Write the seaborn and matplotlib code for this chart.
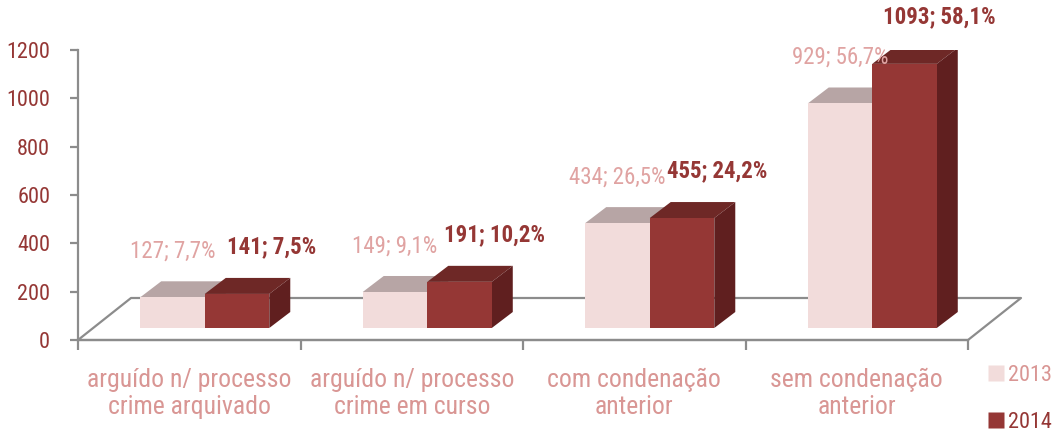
import numpy as np
import pandas as pd
import matplotlib
matplotlib.use("Agg")
import matplotlib.pyplot as plt
import seaborn as sns
from matplotlib import transforms
from matplotlib.patches import Polygon
from matplotlib.lines import Line2D
from matplotlib.ticker import FixedLocator

# ---------------- data ----------------
categories = ["arguído n/ processo\ncrime arquivado",
              "arguído n/ processo\ncrime em curso",
              "com condenação\nanterior",
              "sem condenação\nanterior"]
years = ["2013", "2014"]
values_2013 = [127, 149, 434, 929]
values_2014 = [141, 191, 455, 1093]
pct_2013 = ["7,7%", "9,1%", "26,5%", "56,7%"]
pct_2014 = ["7,5%", "10,2%", "24,2%", "58,1%"]
y_ticks = [0, 200, 400, 600, 800, 1000, 1200]

# ---------------- style ----------------
sns.set_theme(style="white")
plt.rcParams["font.family"] = ["Roboto Condensed", "DejaVu Sans"]
plt.rcParams["font.stretch"] = "condensed"

front = {"2013": "#F2DCDB", "2014": "#953735"}
top_c = {"2013": "#B7A5A5", "2014": "#6E2826"}
side_c = {"2013": "#C9B5B4", "2014": "#601F1F"}
lab_c = {"2013": "#E0A3A2", "2014": "#953735"}
axis_gray = "#8C8C8C"
tick_red = "#953735"
cat_pink = "#D99694"

W, H = 1053, 440
fig = plt.figure(figsize=(W / 100, H / 100), dpi=100)
ax = fig.add_axes([78 / W, 100 / H, 890 / W, 290 / H])

df = pd.DataFrame({
    "cat": categories * 2,
    "year": [years[0]] * 4 + [years[1]] * 4,
    "value": values_2013 + values_2014,
})
sns.barplot(data=df, x="cat", y="value", hue="year", palette=front,
            width=0.58, saturation=1, ax=ax, legend=False, linewidth=0,
            zorder=3)
ax.set_xlim(-0.5, 3.5)
ax.set_ylim(0, 1200)

# pixel -> data unit conversions
px_x = 4.0 / 890.0
px_y = 1200.0 / 290.0

# bars sit partway into the floor depth
shift = transforms.ScaledTranslation(15.5 / 100, 12 / 100, fig.dpi_scale_trans)
bar_tr = ax.transData + shift
ddx, ddy = 21 * px_x, 16 * px_y  # bar depth

bars = sorted(ax.patches, key=lambda p: p.get_x())
for i, p in enumerate(bars):
    yr = years[i % 2]
    p.set_transform(bar_tr)
    x0, w, h = p.get_x(), p.get_width(), p.get_height()
    z = 3 + (i % 2) * 2
    p.set_zorder(z + 1)
    topf = Polygon([(x0, h), (x0 + w, h), (x0 + w + ddx, h + ddy), (x0 + ddx, h + ddy)],
                   closed=True, facecolor=top_c[yr], edgecolor="none", transform=bar_tr, zorder=z)
    sidef = Polygon([(x0 + w, 0), (x0 + w, h), (x0 + w + ddx, h + ddy), (x0 + w + ddx, ddy)],
                    closed=True, facecolor=side_c[yr], edgecolor="none", transform=bar_tr, zorder=z)
    ax.add_patch(topf)
    ax.add_patch(sidef)

# data labels
for i, p in enumerate(bars):
    gi, hi = i // 2, i % 2
    yr = years[hi]
    v = values_2013[gi] if hi == 0 else values_2014[gi]
    pc = pct_2013[gi] if hi == 0 else pct_2014[gi]
    off = (0, 46) if hi == 0 else (35, 47)
    ax.annotate(f"{v}; {pc}", xy=(p.get_x() + p.get_width() / 2, p.get_height()),
                xycoords=bar_tr, xytext=(off[0] * 0.72, off[1] * 0.72),
                textcoords="offset points", ha="center", va="center",
                fontsize=16.5, color=lab_c[yr], fontweight="bold" if hi == 1 else "normal",
                zorder=10)

# floor outline
fx, fy = 53 * px_x, 42 * px_y
floor = Line2D([-0.5, -0.5 + fx, 3.5 + fx, 3.5, -0.5], [0, fy, fy, 0, 0],
               color=axis_gray, lw=1.6, zorder=1, clip_on=False)
ax.add_line(floor)

# axes styling
for s in ["top", "right"]:
    ax.spines[s].set_visible(False)
for s in ["left", "bottom"]:
    ax.spines[s].set_color(axis_gray)
    ax.spines[s].set_linewidth(1.6)
ax.set_yticks(y_ticks)
ax.set_yticklabels([str(t) for t in y_ticks], fontsize=16, color=tick_red)
ax.tick_params(axis="y", length=6, width=1.6, color=axis_gray, pad=14, left=True)
ax.set_xticks(range(len(categories)))
ax.set_xticklabels(categories, fontsize=18.5, color=cat_pink, linespacing=1.15)
ax.tick_params(axis="x", which="major", length=0, pad=20)
ax.xaxis.set_minor_locator(FixedLocator([-0.5, 0.5, 1.5, 2.5, 3.5]))
ax.tick_params(axis="x", which="minor", length=7, width=1.6, color=axis_gray, bottom=True)
ax.set_xlabel("")
ax.set_ylabel("")
ax.grid(False)

# legend
handles = [Line2D([], [], marker="s", linestyle="none", markersize=11,
                  markerfacecolor=front[y], markeredgecolor="none") for y in years]
leg = fig.legend(handles, years, loc="upper left", bbox_to_anchor=(987 / W, 1 - 365 / H),
                 frameon=False, fontsize=16, handlelength=0.78, handletextpad=0.15,
                 labelspacing=1.15, borderpad=0, borderaxespad=0)
for t, y in zip(leg.get_texts(), years):
    t.set_color(cat_pink if y == "2013" else front[y])

fig.savefig("out.png", dpi=100)
